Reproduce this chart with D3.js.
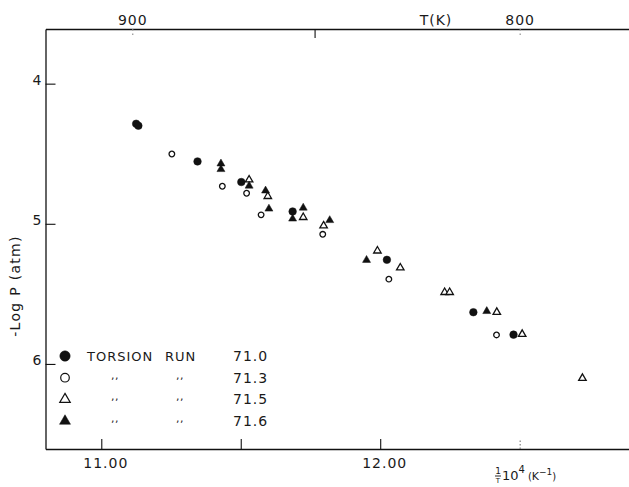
<!DOCTYPE html>
<html>
<head>
<meta charset="utf-8">
<script src="https://cdn.jsdelivr.net/npm/d3@7"></script>
<style>
    html, body { margin: 0; padding: 0; background: #fff; }
    svg { display: block; }
    text { font-family: "DejaVu Sans", sans-serif; fill: #1a1a1a; }
</style>
</head>
<body>
<svg id="chart" width="629" height="487"></svg>
<script>
    // 1/T * 10^4 (K^-1) and -log P (atm)
    var run710 = [[11.125, 4.286], [11.133, 4.300], [11.345, 4.555], [11.502, 4.702],
            [11.686, 4.912], [12.024, 5.257], [12.334, 5.631], [12.478, 5.791]],
        run713 = [[11.253, 4.502], [11.434, 4.732], [11.521, 4.782], [11.573, 4.936],
            [11.794, 5.075], [12.031, 5.395], [12.417, 5.793]],
        run715 = [[11.530, 4.686], [11.597, 4.804], [11.724, 4.954], [11.797, 5.014],
            [11.990, 5.193], [12.072, 5.314], [12.231, 5.489], [12.249, 5.489],
            [12.418, 5.631], [12.509, 5.788], [12.725, 6.102]],
        run716 = [[11.429, 4.571], [11.429, 4.611], [11.530, 4.729], [11.589, 4.764],
            [11.601, 4.893], [11.686, 4.964], [11.724, 4.886], [11.819, 4.975],
            [11.951, 5.259], [12.382, 5.624]];

    var runLabels = ['71.0', '71.3', '71.5', '71.6'],
        xTicks = [11.0, 11.5, 12.0, 12.5],
        xTickLabels = ['11.00', '', '12.00', ''],
        yTicks = [4, 5, 6],
        tempTicks = [900, 850, 800],
        tempTickLabels = ['900', '', '800'];

    var svg = d3.select('#chart'),
        ink = '#111';

    var x = d3.scaleLinear().domain([10.8, 12.892]).range([45.5, 629]),
        y = d3.scaleLinear().domain([3.61, 6.607]).range([29, 449]);

    var styleAxis = function styleAxis(g, size) {
        g.select('.domain').attr('stroke', ink).attr('stroke-width', 1.3);
        g.selectAll('.tick line').attr('stroke', ink).attr('stroke-width', 1.1);
        g.selectAll('.tick text')
            .attr('fill', '#1a1a1a')
            .style('font-family', '"DejaVu Sans", sans-serif')
            .style('font-size', size + 'px')
            .style('letter-spacing', '1px');
    };

    // bottom axis, ticks pointing inwards
    var bottomAxis = svg.append('g')
        .attr('transform', 'translate(0,' + y.range()[1] + ')')
        .call(d3.axisBottom(x).tickValues(xTicks).tickSizeInner(-10).tickSizeOuter(0).tickPadding(9)
            .tickFormat(function (d, i) { return xTickLabels[i]; }));
    styleAxis(bottomAxis, 14);
    bottomAxis.selectAll('.tick text').attr('dx', 4);
    bottomAxis.selectAll('.tick').filter(function (d) { return d === 12.5; })
        .select('line').attr('stroke-dasharray', '1.5,2').attr('stroke', '#777');

    var leftAxis = svg.append('g')
        .attr('transform', 'translate(' + x.range()[0] + ',0)')
        .call(d3.axisLeft(y).tickValues(yTicks).tickSizeInner(-10).tickSizeOuter(0).tickPadding(3)
            .tickFormat(d3.format('d')));
    styleAxis(leftAxis, 14);
    leftAxis.selectAll('.tick text').attr('dy', '0.05em');

    // top axis in temperature
    var topAxis = svg.append('g')
        .attr('transform', 'translate(0,' + y.range()[0] + ')')
        .call(d3.axisTop(x).tickValues(tempTicks.map(function (t) { return 1e4 / t; }))
            .tickSizeInner(-9).tickSizeOuter(0).tickPadding(4)
            .tickFormat(function (d, i) { return tempTickLabels[i]; }));
    styleAxis(topAxis, 14);
    topAxis.selectAll('.tick').filter(function (d, i) { return tempTickLabels[i] !== ''; })
        .select('line').attr('stroke-dasharray', '1.5,3').attr('stroke', '#888');

    svg.append('text')
        .attr('x', 436).attr('y', 25)
        .attr('text-anchor', 'middle')
        .style('font-size', '14px').style('letter-spacing', '1px')
        .text('T(K)');

    svg.append('text')
        .attr('transform', 'translate(20,286) rotate(-90)')
        .attr('text-anchor', 'middle')
        .style('font-size', '14px').style('letter-spacing', '1.3px')
        .text('-Log P (atm)');

    // x title: 1/T 10^4 (K^-1)
    var xTitle = svg.append('g').attr('transform', 'translate(498,479)');
    xTitle.append('text').attr('x', 0).attr('y', -5).attr('text-anchor', 'middle')
        .style('font-size', '9px').text('1');
    xTitle.append('line').attr('x1', -3).attr('x2', 3).attr('y1', -3).attr('y2', -3)
        .attr('stroke', ink).attr('stroke-width', 0.9);
    xTitle.append('text').attr('x', 0).attr('y', 4).attr('text-anchor', 'middle')
        .style('font-size', '7px').text('T');
    var xt = xTitle.append('text').attr('x', 4).attr('y', 1).style('font-size', '13px');
    xt.append('tspan').text('10');
    xt.append('tspan').attr('dy', -7).style('font-size', '10px').text('4');
    xt.append('tspan').attr('dy', 7).attr('dx', 3).style('font-size', '10px').text('(');
    xt.append('tspan').style('font-size', '11px').text('K');
    xt.append('tspan').attr('dy', -5).style('font-size', '9px').text('\u22121');
    xt.append('tspan').attr('dy', 5).style('font-size', '10px').text(')');

    // markers
    var circle = function circle(r) { return d3.symbol().type(d3.symbolCircle).size(Math.PI * r * r)(); },
        triangle = function triangle(s) { return d3.symbol().type(d3.symbolTriangle).size(Math.sqrt(3) / 4 * s * s)(); };

    var series = [
        { data: run710, path: circle(3.8), legend: circle(5.2), fill: ink },
        { data: run713, path: circle(2.8), legend: circle(4.3), fill: 'none' },
        { data: run715, path: triangle(7.5), legend: triangle(10.5), fill: 'none' },
        { data: run716, path: triangle(8), legend: triangle(11), fill: ink }
    ];

    series.forEach(function (s) {
        svg.append('g').selectAll('path')
            .data(s.data)
            .join('path')
            .attr('transform', function (d) { return 'translate(' + x(d[0]) + ',' + y(d[1]) + ')'; })
            .attr('d', s.path)
            .attr('fill', s.fill === 'none' ? '#fff' : s.fill)
            .attr('stroke', ink)
            .attr('stroke-width', s.fill === 'none' ? 1.3 : 0.5);
    });

    // legend
    var legend = svg.append('g').attr('transform', 'translate(65,356)'),
        rowGap = 21.7;

    series.forEach(function (s, i) {
        var row = legend.append('g').attr('transform', 'translate(0,' + (i * rowGap) + ')');
        row.append('path')
            .attr('d', s.legend)
            .attr('fill', s.fill === 'none' ? '#fff' : s.fill)
            .attr('stroke', ink)
            .attr('stroke-width', s.fill === 'none' ? 1.2 : 0.5);
        if (i === 0) {
            row.append('text').attr('x', 22).attr('y', 5)
                .style('font-size', '13px').style('letter-spacing', '1px').text('TORSION');
            row.append('text').attr('x', 100).attr('y', 5)
                .style('font-size', '13px').style('letter-spacing', '1px').text('RUN');
        } else {
            [50, 115].forEach(function (dx) {
                row.append('text').attr('x', dx).attr('y', 1)
                    .attr('text-anchor', 'middle')
                    .style('font-size', '11px').style('letter-spacing', '0.5px').text(',,');
            });
        }
        row.append('text').attr('x', 168).attr('y', 5)
            .style('font-size', '14px').style('letter-spacing', '1px').text(runLabels[i]);
    });
</script>
</body>
</html>
